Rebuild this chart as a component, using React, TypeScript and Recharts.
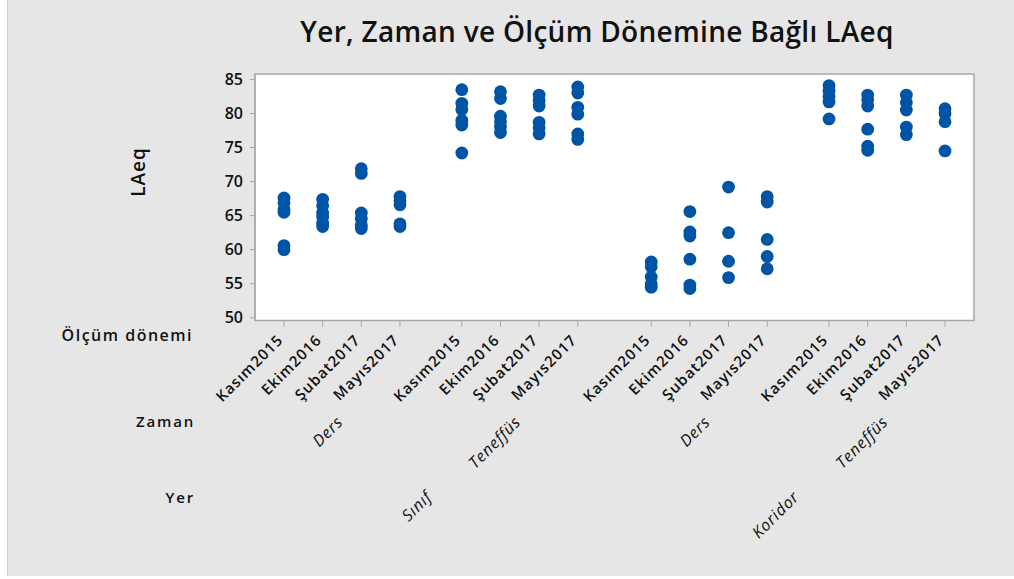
import { ScatterChart, Scatter, XAxis, YAxis, ReferenceArea } from "recharts";

const periods = ["Kasım2015", "Ekim2016", "Şubat2017", "Mayıs2017"];
const zamanLevels = ["Ders", "Teneffüs"];
const yerLevels = ["Sınıf", "Koridor"];
const yTicks = [50, 55, 60, 65, 70, 75, 80, 85];

// LAeq readings for each period (Kasım2015, Ekim2016, Şubat2017, Mayıs2017)
const sinifDers = [
  [67.6, 66.9, 65.9, 65.5, 60.6, 60.0],
  [67.4, 66.4, 65.4, 64.8, 63.9, 63.4],
  [71.9, 71.2, 65.4, 64.5, 63.6, 63.1],
  [67.8, 67.2, 66.6, 63.8, 63.4],
];
const sinifTeneffus = [
  [83.5, 81.5, 80.6, 79.0, 78.3, 74.2],
  [83.2, 82.2, 79.6, 78.8, 78.0, 77.2],
  [82.7, 81.9, 81.1, 78.7, 77.9, 77.0],
  [83.9, 83.0, 80.9, 79.9, 77.0, 76.2],
];
const koridorDers = [
  [58.2, 57.5, 56.0, 55.0, 54.5],
  [65.6, 62.6, 62.0, 58.6, 54.8, 54.3],
  [69.2, 62.5, 58.3, 55.9],
  [67.8, 67.0, 61.5, 59.0, 57.2],
];
const koridorTeneffus = [
  [84.1, 83.3, 82.5, 81.7, 79.2],
  [82.7, 82.0, 81.1, 77.7, 75.2, 74.6],
  [82.7, 81.6, 80.5, 78.0, 76.9],
  [80.7, 80.0, 78.8, 74.5],
];

const groups = [
  [sinifDers, sinifTeneffus],
  [koridorDers, koridorTeneffus],
];

// spacing of the category axis (Minitab leaves gaps between groups)
const zamanGap = 1.6;
const yerGap = 1.9;
const zamanSpan = periods.length - 1 + zamanGap;
const pos = (yi: number, zi: number, pi: number) =>
  yi * (zamanSpan + (periods.length - 1) + yerGap) + zi * zamanSpan + pi;

const points: { x: number; y: number }[] = [];
const periodTicks: number[] = [];
const periodTickLabels: string[] = [];
const zamanTicks: number[] = [];
const zamanTickLabels: string[] = [];
const yerTicks: number[] = [];
const yerTickLabels: string[] = [];

groups.forEach((yerGroup, yi) => {
  yerGroup.forEach((zamanGroup, zi) => {
    zamanGroup.forEach((vals, pi) => {
      const x = pos(yi, zi, pi);
      periodTicks.push(x);
      periodTickLabels.push(periods[pi]);
      vals.forEach((v) => points.push({ x, y: v }));
    });
    zamanTicks.push((pos(yi, zi, 0) + pos(yi, zi, periods.length - 1)) / 2);
    zamanTickLabels.push(zamanLevels[zi]);
  });
  yerTicks.push((pos(yi, 0, 0) + pos(yi, 1, periods.length - 1)) / 2);
  yerTickLabels.push(yerLevels[yi]);
});

const xDomain: [number, number] = [-0.75, pos(1, 1, 3) + 0.75];
const yDomain: [number, number] = [49.6, 85.8];

// anchor points so the group axes have something to hang their ticks on
const zamanAnchors = zamanTicks.map((x) => ({ x, y: 60 }));
const yerAnchors = yerTicks.map((x) => ({ x, y: 60 }));

const FONT = '"Open Sans", sans-serif';
const BORDER = "#a6a6a6";

const PeriodTick = (props: any) => {
  const { x, y, index } = props;
  const yy = y + 12.5;
  return (
    <text x={x} y={yy} transform={`rotate(-45 ${x} ${yy})`} textAnchor="end" fontFamily={FONT} fontSize={15} fontWeight={600} letterSpacing={1} fill="#111">
      {periodTickLabels[index]}
    </text>
  );
};

const ZamanTick = (props: any) => {
  const { x, y, index } = props;
  const xx = x + 2;
  const yy = y + 14.5;
  return (
    <text x={xx} y={yy} transform={`rotate(-45 ${xx} ${yy})`} textAnchor="end" fontFamily={FONT} fontSize={16} fontStyle="italic" letterSpacing={0.8} fill="#111">
      {zamanTickLabels[index]}
    </text>
  );
};

const YerTick = (props: any) => {
  const { x, y, index } = props;
  const xx = x + 2;
  const yy = y + 15.5;
  return (
    <text x={xx} y={yy} transform={`rotate(-45 ${xx} ${yy})`} textAnchor="end" fontFamily={FONT} fontSize={16} fontStyle="italic" letterSpacing={0.8} fill="#111">
      {yerTickLabels[index]}
    </text>
  );
};

const Dot = (props: any) => <circle cx={props.cx} cy={props.cy} r={6.4} fill="#0054a6" />;
const NoDot = () => <g />;

export default function App() {
  return (
    <div style={{ position: "relative", width: 1014, height: 579, background: "#fff", overflow: "hidden" }}>
      <style>{`body{margin:0}`}</style>
      <div style={{ position: "absolute", left: 7, top: 0, width: 1007, height: 576, background: "#e6e6e6", borderLeft: "1px solid #cfcfcf", boxSizing: "border-box" }} />
      <div style={{ position: "absolute", left: 0, top: 0 }}>
        <ScatterChart width={1014} height={579} margin={{ top: 74, right: 40, left: 195, bottom: 10.5 }}>
          <XAxis
            xAxisId="a_period"
            type="number"
            dataKey="x"
            domain={xDomain}
            allowDataOverflow
            ticks={periodTicks}
            interval={0}
            height={88}
            tickSize={6}
            tickMargin={2}
            axisLine={{ stroke: BORDER }}
            tickLine={{ stroke: BORDER }}
            tick={<PeriodTick />}
          />
          <XAxis
            xAxisId="b_zaman"
            type="number"
            dataKey="x"
            domain={xDomain}
            allowDataOverflow
            ticks={zamanTicks}
            interval={0}
            height={74}
            tickSize={0}
            tickMargin={0}
            axisLine={false}
            tickLine={false}
            tick={<ZamanTick />}
          />
          <XAxis
            xAxisId="c_yer"
            type="number"
            dataKey="x"
            domain={xDomain}
            allowDataOverflow
            ticks={yerTicks}
            interval={0}
            height={86}
            tickSize={0}
            tickMargin={0}
            axisLine={false}
            tickLine={false}
            tick={<YerTick />}
          />
          <YAxis
            yAxisId="laeq"
            type="number"
            dataKey="y"
            domain={yDomain}
            allowDataOverflow
            ticks={yTicks}
            interval={0}
            width={60}
            tickSize={5}
            tickMargin={7}
            axisLine={{ stroke: BORDER }}
            tickLine={{ stroke: BORDER }}
            tick={{ fontFamily: FONT, fontSize: 16, fontWeight: 600, fill: "#111" }}
          />
          <ReferenceArea
            xAxisId="a_period"
            yAxisId="laeq"
            x1={xDomain[0]}
            x2={xDomain[1]}
            y1={yDomain[0]}
            y2={yDomain[1]}
            fill="#ffffff"
            fillOpacity={1}
            stroke={BORDER}
            strokeWidth={1.5}
          />
          <Scatter xAxisId="b_zaman" yAxisId="laeq" data={zamanAnchors} shape={<NoDot />} isAnimationActive={false} />
          <Scatter xAxisId="c_yer" yAxisId="laeq" data={yerAnchors} shape={<NoDot />} isAnimationActive={false} />
          <Scatter xAxisId="a_period" yAxisId="laeq" data={points} shape={<Dot />} isAnimationActive={false} />
        </ScatterChart>
      </div>
      <svg width={1014} height={579} style={{ position: "absolute", left: 0, top: 0, pointerEvents: "none" }}>
        <text x={597} y={42} textAnchor="middle" fontFamily={FONT} fontSize={28} fontWeight={600} letterSpacing={0.3} fill="#111">
          Yer, Zaman ve Ölçüm Dönemine Bağlı LAeq
        </text>
        <text x={145} y={172} transform="rotate(-90 145 172)" textAnchor="middle" fontFamily={FONT} fontSize={19} fontWeight={600} letterSpacing={1} fill="#111">
          LAeq
        </text>
        <text x={193} y={341} textAnchor="end" fontFamily={FONT} fontSize={16} fontWeight={600} letterSpacing={1.5} fill="#111">
          Ölçüm dönemi
        </text>
        <text x={195} y={427} textAnchor="end" fontFamily={FONT} fontSize={15} fontWeight={600} letterSpacing={1.8} fill="#111">
          Zaman
        </text>
        <text x={195} y={503} textAnchor="end" fontFamily={FONT} fontSize={15} fontWeight={600} letterSpacing={1.8} fill="#111">
          Yer
        </text>
      </svg>
    </div>
  );
}
